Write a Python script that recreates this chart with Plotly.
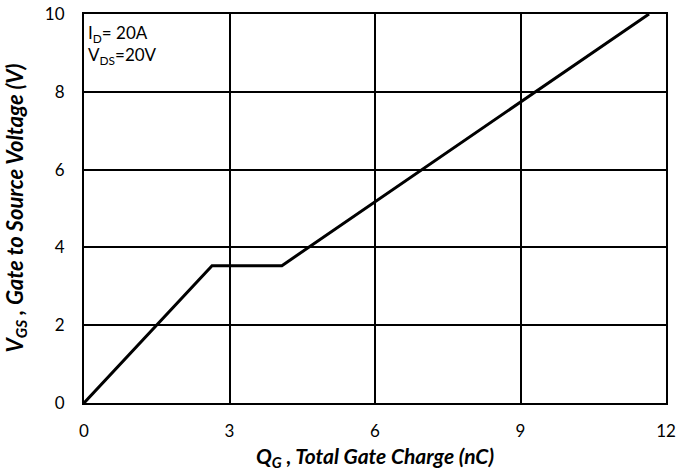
import plotly.graph_objects as go

qg = [0, 2.64, 4.08, 11.65]
vgs = [0, 3.53, 3.53, 10]
x_ticks = [0, 3, 6, 9, 12]
y_ticks = [0, 2, 4, 6, 8, 10]

x_title = "<b><i>Q<sub>G</sub> , Total Gate Charge (nC)</i></b>"
y_title = "<b><i>V<sub>GS</sub> , Gate to Source Voltage (V)</i></b>"
note = "I<sub>D</sub>= 20A<br>V<sub>DS</sub>=20V"

font = "Lato, 'Open Sans', sans-serif"

fig = go.Figure()
fig.add_trace(go.Scatter(x=qg, y=vgs, mode="lines",
                         line=dict(color="black", width=3), showlegend=False,
                         hoverinfo="skip"))

axis_common = dict(showgrid=True, gridcolor="black", gridwidth=1.5,
                   showline=True, linecolor="black", linewidth=2, mirror=True,
                   zeroline=False, ticks="", automargin=False,
                   ticklabeloverflow="allow", tickfont=dict(size=17))

fig.update_layout(
    width=680, height=471,
    margin=dict(l=84, r=14, t=14, b=68),
    paper_bgcolor="white", plot_bgcolor="white",
    font=dict(family=font, size=17, color="black"),
    xaxis=dict(range=[0, 12], tickvals=x_ticks, ticklabelstandoff=12, **axis_common),
    yaxis=dict(range=[0, 10], tickvals=y_ticks, ticklabelstandoff=14, **axis_common),
    annotations=[
        dict(x=0, y=10, xref="x", yref="y", xanchor="left", yanchor="top",
             xshift=2, yshift=-6, align="left", showarrow=False,
             text=note, font=dict(size=17)),
        dict(x=0.5, y=0, xref="paper", yref="paper", xanchor="center", yanchor="middle",
             yshift=-54, showarrow=False, text=x_title, font=dict(size=21)),
        dict(x=0, y=0.5, xref="paper", yref="paper", xanchor="center", yanchor="middle",
             xshift=-69, showarrow=False, textangle=-90, text=y_title,
             font=dict(size=22)),
    ],
)

fig.write_html("out.html", config={"displayModeBar": False},
               post_script="document.body.style.margin='0';")
